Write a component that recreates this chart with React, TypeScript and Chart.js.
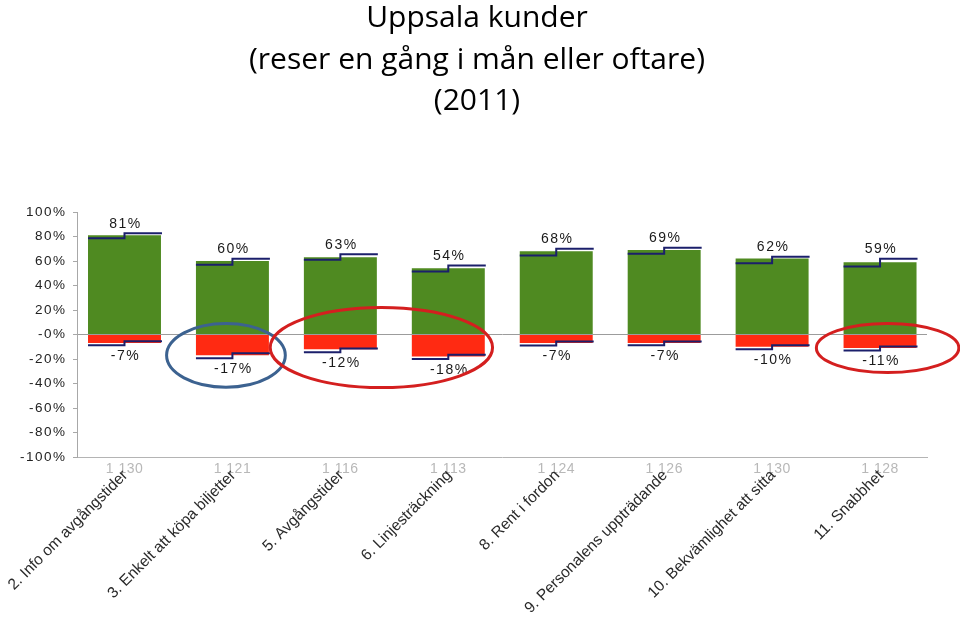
import { useEffect, useRef } from "react";
import { Chart, registerables } from "chart.js";

Chart.register(...registerables);

const titleLines = ["Uppsala kunder", "(reser en gång i mån eller oftare)", "(2011)"];

const categories = [
  "2. Info om avgångstider",
  "3. Enkelt att köpa biljetter",
  "5. Avgångstider",
  "6. Linjesträckning",
  "8. Rent i fordon",
  "9. Personalens uppträdande",
  "10. Bekvämlighet att sitta",
  "11. Snabbhet",
];
const counts = ["1 130", "1 121", "1 116", "1 113", "1 124", "1 126", "1 130", "1 128"];

const positive = [81, 60, 63, 54, 68, 69, 62, 59];
const negative = [-7, -17, -12, -18, -7, -7, -10, -11];

// step markers (left = lower level, right = upper level)
const posLow = [78.6, 56.9, 61, 51.4, 64.5, 65.9, 58.2, 55.5];
const posHigh = [82.7, 61.8, 65.5, 56.3, 70, 70.8, 63.4, 61.8];
const negLow = [-8.7, -19.3, -14.4, -20.1, -9, -8.7, -12, -13.1];
const negHigh = [-5.5, -15.3, -11.4, -16.6, -5.7, -5.7, -8.7, -9.8];

const yTickValues = [100, 80, 60, 40, 20, 0, -20, -40, -60, -80, -100];
const yTickLabels = ["100%", "80%", "60%", "40%", "20%", "-0%", "-20%", "-40%", "-60%", "-80%", "-100%"];

// hand-drawn highlight ellipses, in data units (category index, percent)
const highlightCenterX = [0.94, 2.38, 7.07];
const highlightCenterY = [-17, -10.6, -11];
const highlightRadiusX = [0.55, 1.03, 0.66];
const highlightRadiusY = [26, 32.7, 20];
const highlightColors = ["#3c6290", "#d41f1f", "#d41f1f"];

const GREEN = "#4f8a21";
const RED = "#ff2a12";
const NAVY = "#1b1f6b";

const overlayPlugin = {
  id: "overlay",
  beforeDraw(chart: any) {
    (chart.ctx as any).letterSpacing = "1.5px";
  },
  afterDatasetsDraw(chart: any) {
    const { ctx } = chart;
    const x = chart.scales.x;
    const y = chart.scales.y;
    const meta = chart.getDatasetMeta(0);
    ctx.save();
    ctx.strokeStyle = NAVY;
    ctx.lineWidth = 2;
    const step = (xc: number, hw: number, lo: number, hi: number) => {
      const yl = y.getPixelForValue(lo);
      const yh = y.getPixelForValue(hi);
      ctx.beginPath();
      ctx.moveTo(xc - hw, yl);
      ctx.lineTo(xc, yl);
      ctx.lineTo(xc, yh);
      ctx.lineTo(xc + hw + 1, yh);
      ctx.stroke();
    };
    positive.forEach((_, i) => {
      const xc = x.getPixelForValue(i);
      const hw = meta.data[i].width / 2;
      step(xc, hw, posLow[i], posHigh[i]);
      step(xc, hw, negLow[i], negHigh[i]);
    });
    ctx.restore();
  },
  afterDraw(chart: any) {
    const { ctx } = chart;
    const x = chart.scales.x;
    const y = chart.scales.y;
    ctx.save();
    // value labels
    (ctx as any).letterSpacing = "1.5px";
    ctx.font = "14px 'Liberation Sans', Arial, sans-serif";
    ctx.fillStyle = "#1a1a1a";
    ctx.textAlign = "center";
    ctx.textBaseline = "middle";
    positive.forEach((v, i) => {
      const xc = x.getPixelForValue(i) + 1;
      ctx.fillText(`${v}%`, xc, y.getPixelForValue(Math.max(v, posHigh[i])) - 9.5);
      const n = negative[i];
      ctx.fillText(`${n}%`, xc, y.getPixelForValue(Math.min(n, negLow[i])) + 11);
    });
    // counts
    ctx.font = "14px 'Liberation Sans', Arial, sans-serif";
    ctx.fillStyle = "#b8b8b8";
    (ctx as any).letterSpacing = "0.5px";
    counts.forEach((c, i) => {
      ctx.fillText(c, x.getPixelForValue(i), 469);
    });
    // rotated category labels
    (ctx as any).letterSpacing = "0px";
    ctx.font = "15.5px 'Liberation Sans', Arial, sans-serif";
    ctx.fillStyle = "#2a2a2a";
    ctx.textAlign = "right";
    ctx.textBaseline = "middle";
    categories.forEach((c, i) => {
      ctx.save();
      ctx.translate(x.getPixelForValue(i) + 1, 473);
      ctx.rotate(-Math.PI / 4);
      ctx.fillText(c, 0, 0);
      ctx.restore();
    });
    // highlight ellipses
    ctx.lineWidth = 3;
    highlightCenterX.forEach((cx, i) => {
      const px = x.getPixelForValue(cx);
      const py = y.getPixelForValue(highlightCenterY[i]);
      const rx = Math.abs(x.getPixelForValue(cx + highlightRadiusX[i]) - px);
      const ry = Math.abs(y.getPixelForValue(highlightCenterY[i] + highlightRadiusY[i]) - py);
      ctx.strokeStyle = highlightColors[i];
      ctx.beginPath();
      ctx.ellipse(px, py, rx, ry, 0, 0, Math.PI * 2);
      ctx.stroke();
    });
    // title
    ctx.font = "30px 'Open Sans', 'Liberation Sans', sans-serif";
    ctx.fillStyle = "#000";
    ctx.textAlign = "center";
    ctx.textBaseline = "alphabetic";
    const baselines = [27, 68.5, 110];
    titleLines.forEach((t, i) => ctx.fillText(t, 477, baselines[i]));
    ctx.restore();
    (ctx as any).letterSpacing = "0px";
  },
};

export default function App() {
  const ref = useRef<HTMLCanvasElement | null>(null);
  useEffect(() => {
    if (!ref.current) return;
    const chart = new Chart(ref.current, {
      type: "bar",
      data: {
        datasets: [
          {
            label: "Positiv",
            data: positive.map((v, i) => ({ x: i, y: v })),
            backgroundColor: GREEN,
            borderWidth: 0,
          },
          {
            label: "Negativ",
            data: negative.map((v, i) => ({ x: i, y: v })),
            backgroundColor: RED,
            borderWidth: 0,
          },
        ],
      },
      options: {
        animation: false,
        responsive: false,
        devicePixelRatio: 1,
        layout: { padding: { left: 0, top: 212, right: 33, bottom: 172 } },
        datasets: { bar: { barPercentage: 0.676, categoryPercentage: 1 } },
        plugins: {
          legend: { display: false },
          tooltip: { enabled: false },
          title: { display: false },
        },
        scales: {
          x: {
            type: "linear",
            stacked: true,
            offset: false,
            min: -0.44,
            max: 7.435,
            afterBuildTicks: (scale: any) => {
              scale.ticks = categories.map((_, i) => ({ value: i }));
            },
            afterFit: (scale: any) => {
              scale.height = 0;
            },
            ticks: { display: false },
            grid: { display: false, offset: false },
            border: { display: true, color: "#b4b4b4", width: 1 },
          },
          y: {
            stacked: true,
            min: -100,
            max: 100,
            afterBuildTicks: (scale: any) => {
              scale.ticks = yTickValues.map((v) => ({ value: v }));
            },
            afterFit: (scale: any) => {
              scale.width = 77;
            },
            ticks: {
              autoSkip: false,
              padding: 6.5,
              color: "#222",
              font: { family: "'Liberation Sans', Arial, sans-serif", size: 13.5 },
              callback: (v: any) => yTickLabels[yTickValues.indexOf(Number(v))],
            },
            grid: {
              drawTicks: true,
              tickLength: 4,
              tickColor: "#a8a8a8",
              color: (c: any) => (c.tick && c.tick.value === 0 ? "#9c9c9c" : "rgba(0,0,0,0)"),
            },
            border: { display: true, color: "#a8a8a8", width: 1 },
          },
        },
      },
      plugins: [overlayPlugin],
    } as any);
    return () => chart.destroy();
  }, []);
  return (
    <div style={{ position: "absolute", left: 0, top: 0, width: 960, height: 629, background: "#fff" }}>
      <canvas ref={ref} width={960} height={629} style={{ width: 960, height: 629, display: "block" }} />
    </div>
  );
}
